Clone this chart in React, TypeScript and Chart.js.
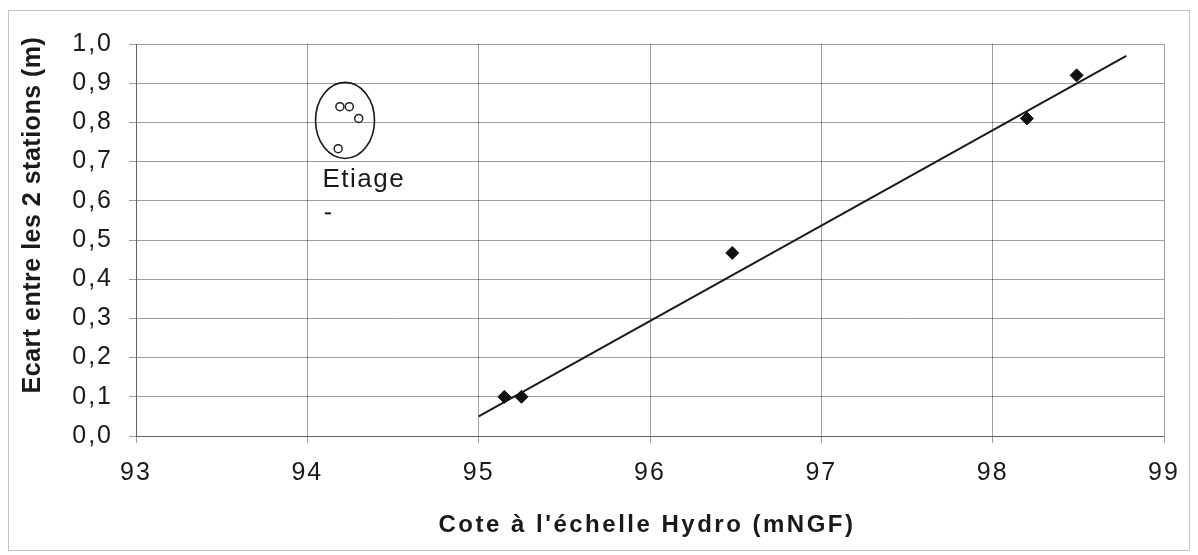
import React, { useEffect, useRef } from "react";
import { Chart, registerables } from "chart.js";

Chart.register(...registerables);

// ---- data ----
const xMin = 93;
const xMax = 99;
const xStep = 1;
const yMin = 0;
const yMax = 1;
const yStep = 0.1;

const mesureX = [95.15, 95.25, 96.48, 98.2, 98.49];
const mesureY = [0.1, 0.1, 0.467, 0.81, 0.92];

const etiageX = [94.19, 94.245, 94.3, 94.18];
const etiageY = [0.84, 0.84, 0.81, 0.733];

const trendX = [95.0, 98.78];
const trendY = [0.05, 0.97];

const etiageLabel = "Etiage";
const etiageLabelAt = [94.33, 0.653];
const etiageEllipse = [94.22, 0.805, 0.172, 0.097]; // cx, cy, rx, ry (data units)
const strayDashAt = [94.12, 0.568];

const xTitle = "Cote à l'échelle Hydro (mNGF)";
const yTitle = "Ecart entre les 2 stations (m)";

const FONT = '"Liberation Sans", Arial, Helvetica, sans-serif';
const GRID = "rgba(0,0,0,0.38)";
const INK = "#1a1a1a";

const fmt = (v: number) => Number(v).toFixed(1).replace(".", ",");

export default function App() {
  const ref = useRef<HTMLCanvasElement>(null);

  useEffect(() => {
    const canvas = ref.current;
    if (!canvas) return;

    const overlay = {
      id: "overlay",
      beforeDraw(chart: any) {
        const ctx = chart.ctx;
        ctx.save();
        ctx.fillStyle = "#ffffff";
        ctx.fillRect(0, 0, chart.width, chart.height);
        ctx.strokeStyle = "#c4c4c4";
        ctx.lineWidth = 1;
        ctx.strokeRect(8.5, 10.5, 1181, 540);
        ctx.restore();
        ctx.letterSpacing = "2px";
      },
      beforeDatasetsDraw(chart: any) {
        chart.ctx.letterSpacing = "0px";
      },
      afterDraw(chart: any) {
        const ctx = chart.ctx;
        const xs = chart.scales.x;
        const ys = chart.scales.y;
        const area = chart.chartArea;

        ctx.save();
        // ellipse around low-water points
        const [cx, cy, rx, ry] = etiageEllipse;
        const px = xs.getPixelForValue(cx);
        const py = ys.getPixelForValue(cy);
        const prx = Math.abs(xs.getPixelForValue(cx + rx) - px);
        const pry = Math.abs(ys.getPixelForValue(cy + ry) - py);
        ctx.beginPath();
        ctx.ellipse(px, py, prx, pry, 0, 0, Math.PI * 2);
        ctx.strokeStyle = INK;
        ctx.lineWidth = 1.6;
        ctx.stroke();

        // Etiage label
        ctx.fillStyle = INK;
        ctx.letterSpacing = "1.5px";
        ctx.font = `26px ${FONT}`;
        ctx.textAlign = "center";
        ctx.textBaseline = "middle";
        ctx.fillText(
          etiageLabel,
          xs.getPixelForValue(etiageLabelAt[0]),
          ys.getPixelForValue(etiageLabelAt[1])
        );

        // small stray dash
        const dx = xs.getPixelForValue(strayDashAt[0]);
        const dy = ys.getPixelForValue(strayDashAt[1]);
        ctx.beginPath();
        ctx.moveTo(dx - 3, dy);
        ctx.lineTo(dx + 3, dy);
        ctx.lineWidth = 2;
        ctx.stroke();

        // x title
        ctx.letterSpacing = "2.5px";
        ctx.font = `bold 24px ${FONT}`;
        ctx.textAlign = "center";
        ctx.textBaseline = "alphabetic";
        ctx.fillText(xTitle, (area.left + area.right) / 2 - 3, 532);

        // y title
        ctx.letterSpacing = "0.5px";
        ctx.font = `bold 25px ${FONT}`;
        ctx.translate(40, 215);
        ctx.rotate(-Math.PI / 2);
        ctx.fillText(yTitle, 0, 0);
        ctx.restore();
        ctx.letterSpacing = "0px";
      },
    };

    const chart = new Chart(canvas, {
      type: "scatter",
      data: {
        datasets: [
          {
            label: "Tendance",
            type: "line",
            data: trendX.map((x, i) => ({ x, y: trendY[i] })),
            borderColor: INK,
            borderWidth: 2,
            pointRadius: 0,
            showLine: true,
            fill: false,
            order: 3,
          },
          {
            label: "Mesures",
            data: mesureX.map((x, i) => ({ x, y: mesureY[i] })),
            pointStyle: "rectRot",
            pointRadius: 6.5,
            backgroundColor: "#111",
            borderColor: "#111",
            borderWidth: 1,
            order: 1,
          },
          {
            label: "Etiage",
            data: etiageX.map((x, i) => ({ x, y: etiageY[i] })),
            pointStyle: "circle",
            pointRadius: 4,
            backgroundColor: "#ffffff",
            borderColor: "#222",
            borderWidth: 1.5,
            order: 2,
          },
        ],
      },
      options: {
        animation: false,
        responsive: false,
        maintainAspectRatio: false,
        layout: { padding: { left: 0, right: 34, top: 44, bottom: 0 } },
        plugins: {
          legend: { display: false },
          tooltip: { enabled: false },
          title: { display: false },
        },
        scales: {
          x: {
            type: "linear",
            min: xMin,
            max: xMax,
            afterFit(scale: any) {
              scale.height = 119;
            },
            ticks: {
              stepSize: xStep,
              autoSkip: false,
              padding: 15,
              color: INK,
              font: { family: FONT, size: 25 },
              callback: (v: any) => String(v),
            },
            grid: { color: GRID, lineWidth: 1, tickLength: 7, tickColor: GRID },
            border: { display: true, color: GRID, width: 1 },
          },
          y: {
            type: "linear",
            min: yMin,
            max: yMax,
            afterFit(scale: any) {
              scale.width = 136;
            },
            ticks: {
              stepSize: yStep,
              autoSkip: false,
              padding: 16,
              color: INK,
              font: { family: FONT, size: 25 },
              callback: (v: any) => fmt(v),
            },
            grid: { color: GRID, lineWidth: 1, tickLength: 7, tickColor: GRID },
            border: { display: true, color: GRID, width: 1 },
          },
        },
      },
      plugins: [overlay],
    } as any);

    return () => chart.destroy();
  }, []);

  return (
    <div style={{ position: "fixed", left: 0, top: 0, width: 1198, height: 555 }}>
      <canvas ref={ref} width={1198} height={555} style={{ display: "block" }} />
    </div>
  );
}
